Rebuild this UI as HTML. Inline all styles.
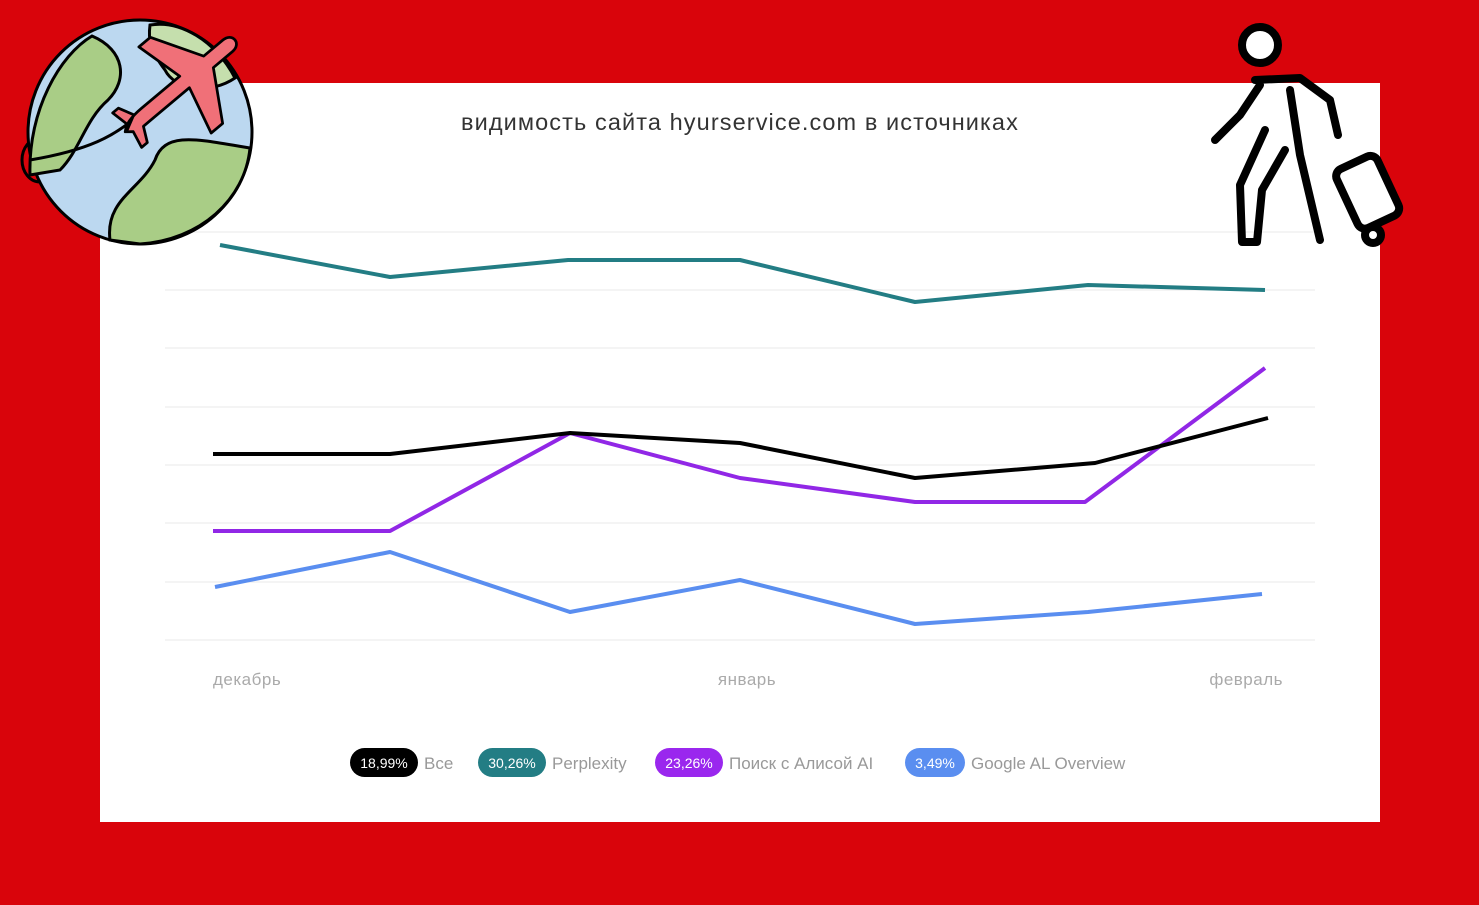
<!DOCTYPE html>
<html><head><meta charset="utf-8"><style>
body{margin:0;width:1479px;height:905px;background:#d9040b;overflow:hidden;font-family:"Liberation Sans",sans-serif}
</style></head><body>
<svg width="1479" height="905" style="position:absolute;left:0;top:0">
<rect x="100" y="83" width="1280" height="739" fill="#fff"/>
<text x="740" y="130" text-anchor="middle" font-size="23.5" letter-spacing="1.1" fill="#333" font-family="Liberation Sans, sans-serif">видимость сайта hyurservice.com в источниках</text>
<g stroke="#e8e8e8" stroke-width="1">
<line x1="165" x2="1315" y1="232" y2="232"/><line x1="165" x2="1315" y1="290" y2="290"/>
<line x1="165" x2="1315" y1="348" y2="348"/><line x1="165" x2="1315" y1="407" y2="407"/>
<line x1="165" x2="1315" y1="465" y2="465"/><line x1="165" x2="1315" y1="523" y2="523"/>
<line x1="165" x2="1315" y1="582" y2="582"/><line x1="165" x2="1315" y1="640" y2="640"/>
</g>
<g fill="none" stroke-width="4" stroke-linejoin="round">
<polyline stroke="#237d84" points="220,245 390,277 568,260 740,260 915,302 1088,285 1265,290"/>
<polyline stroke="#5a8ef0" points="215,587 390,552 570,612 740,580 915,624 1088,612 1262,594"/>
<polyline stroke="#9127e6" points="213,531 390,531 570,433 740,478 915,502 1085,502 1265,368"/>
<polyline stroke="#000" points="213,454 390,454 570,433 740,443 915,478 1095,463 1268,418"/>
</g>
<g font-size="17" fill="#aaa" letter-spacing="0.5">
<text x="213" y="685">декабрь</text><text x="747" y="685" text-anchor="middle">январь</text><text x="1283" y="685" text-anchor="end">февраль</text>
</g>
<g font-size="17">
<rect x="350" y="748" width="68" height="29" rx="14.5" fill="#000"/><text x="384" y="768" fill="#fff" text-anchor="middle" font-size="14">18,99%</text><text x="424" y="769" fill="#999">Все</text>
<rect x="478" y="748" width="68" height="29" rx="14.5" fill="#237d84"/><text x="512" y="768" fill="#fff" text-anchor="middle" font-size="14">30,26%</text><text x="552" y="769" fill="#999">Perplexity</text>
<rect x="655" y="748" width="68" height="29" rx="14.5" fill="#9a27ee"/><text x="689" y="768" fill="#fff" text-anchor="middle" font-size="14">23,26%</text><text x="729" y="769" fill="#999">Поиск с Алисой AI</text>
<rect x="905" y="748" width="60" height="29" rx="14.5" fill="#5a8ef0"/><text x="935" y="768" fill="#fff" text-anchor="middle" font-size="14">3,49%</text><text x="971" y="769" fill="#999">Google AL Overview</text>
</g>
<!-- globe -->
<g stroke="#000" stroke-width="3">
<ellipse cx="40" cy="160" rx="18" ry="22" fill="none"/>
<circle cx="140" cy="132" r="112" fill="#bcd8f0"/>
<path d="M30,175 C28,110 60,55 92,36 C125,50 128,80 108,100 C85,120 80,150 60,170 Z" fill="#a9cd86"/>
<path d="M150,25 C180,20 215,40 235,78 C210,95 175,90 165,70 C150,50 148,40 150,25 Z" fill="#c5dfad"/>
<path d="M110,240 C105,200 140,190 155,160 C165,130 200,140 250,148 C245,200 200,240 140,244 Z" fill="#a9cd86"/>
<path d="M30,160 C90,150 115,135 135,118" fill="none"/>
<g transform="translate(175,90) rotate(-40) scale(1.25)">
<path d="M-50,0 C-50,-4 -40,-6 -30,-6 L10,-6 L0,-45 L12,-45 L35,-6 L55,-6 C65,-6 65,6 55,6 L35,6 L12,45 L0,45 L10,6 L-30,6 L-38,6 L-44,18 L-50,18 L-47,4 L-52,0 L-47,-4 L-50,-18 L-44,-18 L-38,-6 Z" fill="#f07078" stroke-width="2.2" stroke-linejoin="round"/>
</g>
</g>
<!-- traveler -->
<g stroke="#000" stroke-width="8" fill="#fff" stroke-linecap="round" stroke-linejoin="round">
<circle cx="1260" cy="45" r="18"/>
<path d="M1255,80 L1300,78 L1330,100 L1338,135 M1260,85 L1240,115 L1215,140 M1290,90 L1300,155 L1320,240 M1265,130 L1240,185 L1242,242 L1257,242 L1262,190 L1285,150" fill="none"/>
<rect x="1345" y="160" width="45" height="65" rx="8" transform="rotate(-25 1367 192)"/>
<circle cx="1373" cy="235" r="8"/>
</g>
</svg>
</body></html>
